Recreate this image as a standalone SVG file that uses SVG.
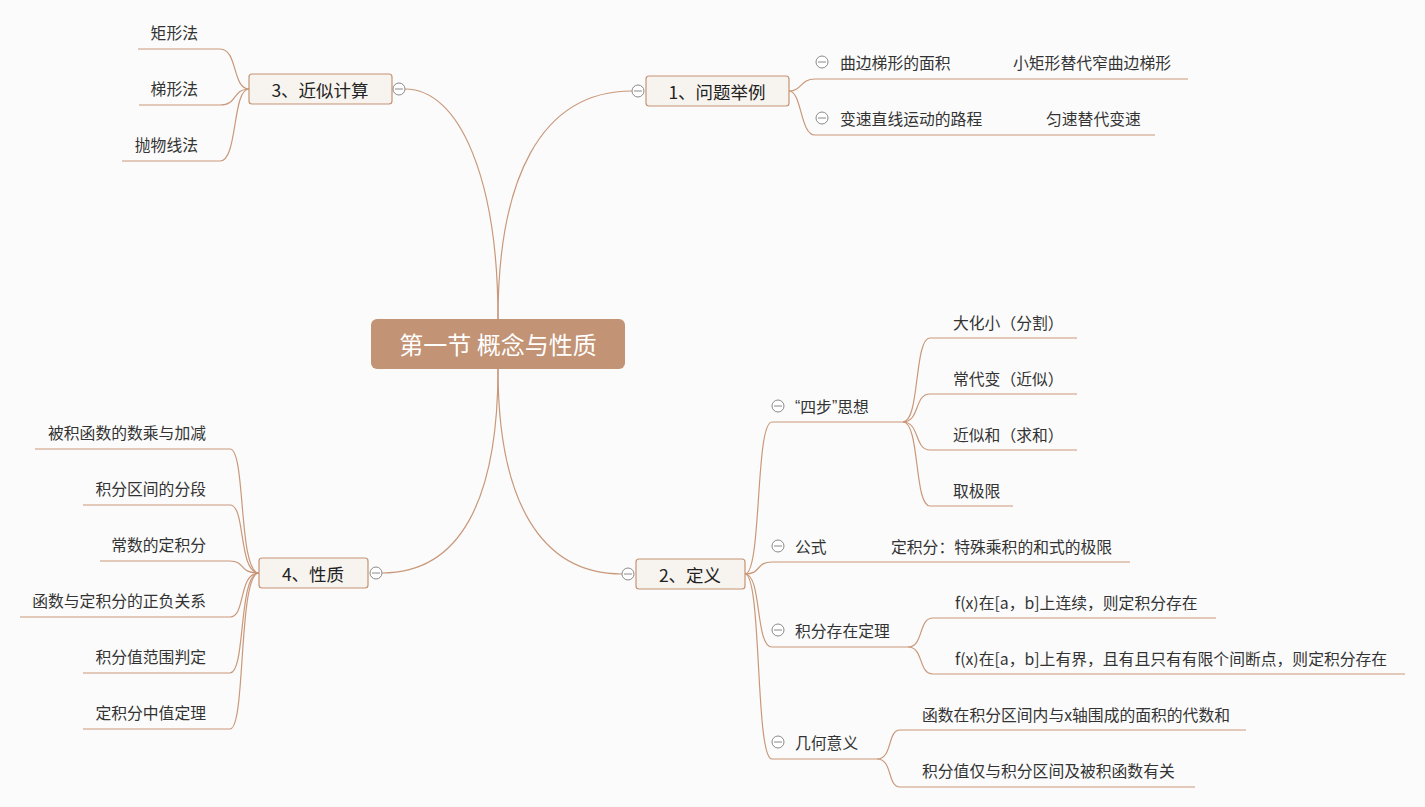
<svg xmlns="http://www.w3.org/2000/svg" width="1425" height="807" viewBox="0 0 1425 807">
<style>
.bg{fill:#fbfbfb}
.c{fill:none;stroke:#c9987a;stroke-width:1.2}
.t{font-family:"Noto Sans CJK SC","Microsoft YaHei",sans-serif;font-size:15.8px;fill:#333;dominant-baseline:central}
.tm{font-family:"Noto Sans CJK SC",sans-serif;font-size:17.5px;fill:#222;dominant-baseline:central;text-anchor:middle}
.box{fill:#f7f3ee;stroke:#c59474;stroke-width:1.2}
.col circle{fill:#fff;stroke:#8a8a8a;stroke-width:1}
.col line{stroke:#8a8a8a;stroke-width:1}
.end{text-anchor:end}
.q{font-family:"Liberation Sans",sans-serif}
</style>
<rect class="bg" x="0" y="0" width="1425" height="807"/>
<g id="connectors">
<path class="c" d="M498,319 C498,180 540,91 632,91"/>
<path class="c" d="M498,319 C498,180 460,89 405,89"/>
<path class="c" d="M498,369 C498,500 540,574 622,574"/>
<path class="c" d="M498,369 C498,500 460,573 382,573"/>
<path class="c" d="M789,91 C802,91 800,79 815,79 H1188"/>
<path class="c" d="M789,91 C802,91 800,135 815,135 H1155"/>
<path class="c" d="M249,89 C232,89 238,49 220,49 H138"/>
<path class="c" d="M249,89 C232,89 238,105 220,105 H139"/>
<path class="c" d="M249,89 C232,89 238,161 220,161 H122"/>
<path class="c" d="M259,573 C238,573 246,449 230,449 H35"/>
<path class="c" d="M259,573 C238,573 246,505 230,505 H83"/>
<path class="c" d="M259,573 C238,573 246,561 230,561 H100"/>
<path class="c" d="M259,573 C238,573 246,617 230,617 H20"/>
<path class="c" d="M259,573 C238,573 246,673 230,673 H83"/>
<path class="c" d="M259,573 C238,573 246,729 230,729 H83"/>
<path class="c" d="M745,574 C762,574 755,422 772,422 H903"/>
<path class="c" d="M745,574 C762,574 755,562 772,562 H1130"/>
<path class="c" d="M745,574 C762,574 755,647 772,647 H908"/>
<path class="c" d="M745,574 C762,574 755,759 772,759 H877"/>
<path class="c" d="M903,422 C920,422 914,338 930,338 H1077"/>
<path class="c" d="M903,422 C920,422 914,394 930,394 H1077"/>
<path class="c" d="M903,422 C920,422 914,450 930,450 H1077"/>
<path class="c" d="M903,422 C920,422 914,506 930,506 H1013"/>
<path class="c" d="M908,647 C924,647 918,618 933,618 H1216"/>
<path class="c" d="M908,647 C924,647 918,674 933,674 H1405"/>
<path class="c" d="M877,759 C893,759 887,730 900,730 H1246"/>
<path class="c" d="M877,759 C893,759 887,787 900,787 H1195"/>
</g>
<g id="center">
<rect x="371" y="319" width="254" height="50" rx="6" fill="#c29374"/>
<text x="498" y="343" font-family="Noto Sans CJK SC,sans-serif" font-size="24" fill="#fff" text-anchor="middle" dominant-baseline="central">第一节 概念与性质</text>
</g>
<g id="n1">
<rect class="box" x="646" y="76" width="143" height="30" rx="3"/>
<text class="tm" x="717" y="91">1、问题举例</text>
<g class="col"><circle cx="638" cy="91" r="6"/><line x1="634" y1="91" x2="642" y2="91"/></g>
</g>
<g id="n1a">
<g class="col"><circle cx="822" cy="62" r="6"/><line x1="818" y1="62" x2="826" y2="62"/></g>
<text class="t" x="840" y="62">曲边梯形的面积</text>
<text class="t" x="1013" y="62">小矩形替代窄曲边梯形</text>
</g>
<g id="n1b">
<g class="col"><circle cx="822" cy="118" r="6"/><line x1="818" y1="118" x2="826" y2="118"/></g>
<text class="t" x="840" y="118">变速直线运动的路程</text>
<text class="t" x="1046" y="118">匀速替代变速</text>
</g>
<g id="n3">
<rect class="box" x="249" y="74" width="143" height="30" rx="3"/>
<text class="tm" x="320" y="89">3、近似计算</text>
<g class="col"><circle cx="399" cy="89" r="6"/><line x1="395" y1="89" x2="403" y2="89"/></g>
</g>
<g id="n3a"><text class="t end" x="198" y="32">矩形法</text></g>
<g id="n3b"><text class="t end" x="198" y="88">梯形法</text></g>
<g id="n3c"><text class="t end" x="198" y="144">抛物线法</text></g>
<g id="n4">
<rect class="box" x="259" y="558" width="109" height="30" rx="3"/>
<text class="tm" x="313" y="573">4、性质</text>
<g class="col"><circle cx="376" cy="573" r="6"/><line x1="372" y1="573" x2="380" y2="573"/></g>
</g>
<g id="n4a"><text class="t end" x="206" y="432">被积函数的数乘与加减</text></g>
<g id="n4b"><text class="t end" x="206" y="488">积分区间的分段</text></g>
<g id="n4c"><text class="t end" x="206" y="544">常数的定积分</text></g>
<g id="n4d"><text class="t end" x="206" y="600">函数与定积分的正负关系</text></g>
<g id="n4e"><text class="t end" x="206" y="656">积分值范围判定</text></g>
<g id="n4f"><text class="t end" x="206" y="712">定积分中值定理</text></g>
<g id="n2">
<rect class="box" x="636" y="559" width="109" height="30" rx="3"/>
<text class="tm" x="690" y="574">2、定义</text>
<g class="col"><circle cx="628" cy="574" r="6"/><line x1="624" y1="574" x2="632" y2="574"/></g>
</g>
<g id="n2a">
<g class="col"><circle cx="778" cy="406" r="6"/><line x1="774" y1="406" x2="782" y2="406"/></g>
<text class="t" x="795" y="406"><tspan class="q">“</tspan>四步<tspan class="q">”</tspan>思想</text>
</g>
<g id="n2a1"><text class="t" x="953" y="322">大化小（分割）</text></g>
<g id="n2a2"><text class="t" x="953" y="378">常代变（近似）</text></g>
<g id="n2a3"><text class="t" x="953" y="434">近似和（求和）</text></g>
<g id="n2a4"><text class="t" x="953" y="490">取极限</text></g>
<g id="n2b">
<g class="col"><circle cx="778" cy="546" r="6"/><line x1="774" y1="546" x2="782" y2="546"/></g>
<text class="t" x="795" y="546">公式</text>
<text class="t" x="891" y="546">定积分：特殊乘积的和式的极限</text>
</g>
<g id="n2c">
<g class="col"><circle cx="778" cy="630" r="6"/><line x1="774" y1="630" x2="782" y2="630"/></g>
<text class="t" x="795" y="630">积分存在定理</text>
</g>
<g id="n2c1"><text class="t" x="955" y="602">f(x)在[a，b]上连续，则定积分存在</text></g>
<g id="n2c2"><text class="t" x="955" y="658">f(x)在[a，b]上有界，且有且只有有限个间断点，则定积分存在</text></g>
<g id="n2d">
<g class="col"><circle cx="778" cy="742" r="6"/><line x1="774" y1="742" x2="782" y2="742"/></g>
<text class="t" x="795" y="742">几何意义</text>
</g>
<g id="n2d1"><text class="t" x="922" y="714">函数在积分区间内与x轴围成的面积的代数和</text></g>
<g id="n2d2"><text class="t" x="922" y="770">积分值仅与积分区间及被积函数有关</text></g>
</svg>
